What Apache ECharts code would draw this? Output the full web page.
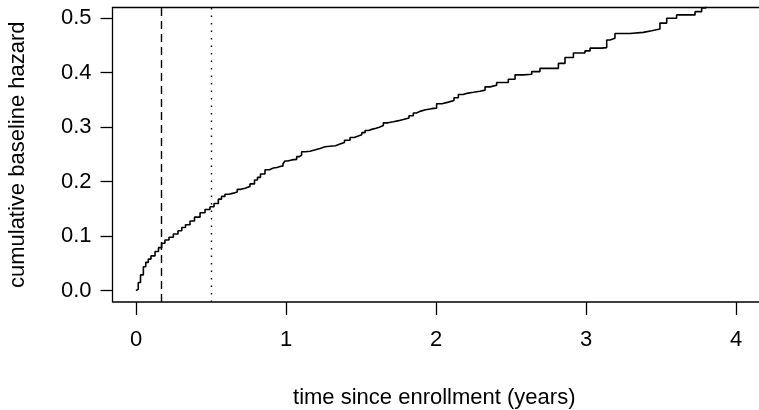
<!DOCTYPE html>
<html>
<head>
<meta charset="utf-8">
<script src="https://cdn.jsdelivr.net/npm/echarts@6/dist/echarts.min.js"></script>
<style>
  html, body { margin: 0; padding: 0; background: #fff; }
  #chart { width: 759px; height: 410px; }
</style>
</head>
<body>
<div id="chart"></div>
<script>
// Cumulative baseline hazard (step function) over follow-up time in years
const timeYears = [0, 0.004, 0.015, 0.03, 0.049, 0.065, 0.082, 0.1, 0.127, 0.15, 0.171, 0.193, 0.22, 0.249, 0.28, 0.305, 0.33, 0.36, 0.39, 0.427, 0.46, 0.493, 0.52, 0.549, 0.57, 0.593, 0.62, 0.649, 0.675, 0.7, 0.727, 0.76, 0.79, 0.81, 0.83, 0.86, 0.89, 0.916, 0.94, 0.96, 0.98, 0.993, 1.01, 1.038, 1.071, 1.09, 1.104, 1.13, 1.16, 1.19, 1.227, 1.26, 1.293, 1.33, 1.36, 1.39, 1.427, 1.455, 1.482, 1.505, 1.527, 1.55, 1.571, 1.6, 1.622, 1.649, 1.68, 1.716, 1.75, 1.782, 1.82, 1.849, 1.87, 1.893, 1.93, 1.971, 2.004, 2.04, 2.082, 2.12, 2.149, 2.18, 2.204, 2.25, 2.293, 2.327, 2.36, 2.404, 2.449, 2.482, 2.527, 2.582, 2.638, 2.693, 2.782, 2.816, 2.86, 2.916, 2.993, 3.027, 3.104, 3.138, 3.16, 3.193, 3.293, 3.382, 3.438, 3.493, 3.538, 3.604, 3.704, 3.727, 3.771, 3.8, 3.9];
const cumHazard = [0.0, 0.003, 0.015, 0.029, 0.044, 0.052, 0.058, 0.064, 0.072, 0.079, 0.087, 0.093, 0.098, 0.104, 0.110, 0.116, 0.121, 0.128, 0.135, 0.143, 0.149, 0.154, 0.160, 0.168, 0.173, 0.177, 0.179, 0.181, 0.186, 0.188, 0.191, 0.196, 0.203, 0.208, 0.214, 0.222, 0.225, 0.226, 0.228, 0.229, 0.233, 0.238, 0.240, 0.241, 0.246, 0.249, 0.255, 0.256, 0.258, 0.261, 0.264, 0.265, 0.266, 0.269, 0.272, 0.276, 0.281, 0.284, 0.286, 0.290, 0.294, 0.296, 0.298, 0.300, 0.303, 0.308, 0.310, 0.312, 0.314, 0.317, 0.321, 0.326, 0.329, 0.332, 0.334, 0.335, 0.343, 0.346, 0.349, 0.354, 0.360, 0.362, 0.364, 0.366, 0.368, 0.374, 0.377, 0.382, 0.382, 0.388, 0.396, 0.397, 0.402, 0.408, 0.408, 0.417, 0.428, 0.436, 0.440, 0.445, 0.446, 0.460, 0.463, 0.472, 0.474, 0.477, 0.480, 0.491, 0.500, 0.506, 0.506, 0.512, 0.519, 0.524, 0.528];

// Reference times: 2 months (dashed) and 6 months (dotted)
const refDashed = 1 / 6;
const refDotted = 0.5;

const xTicks = [0, 1, 2, 3, 4];
const yTicks = [0.0, 0.1, 0.2, 0.3, 0.4, 0.5];

const xTitle = 'time since enrollment (years)';
const yTitle = 'cumulative baseline hazard';

const FONT = 'Liberation Sans, Arial, Helvetica, sans-serif';
const FS = 22;

const chart = echarts.init(document.getElementById('chart'), null, { renderer: 'canvas' });

chart.setOption({
  animation: false,
  backgroundColor: '#ffffff',
  grid: {
    left: 112.5, top: 7.5, right: -7, bottom: 108,
    containLabel: false,
    outerBoundsMode: 'none',
    show: true, borderColor: '#000', borderWidth: 1.3, backgroundColor: 'transparent'
  },
  xAxis: {
    type: 'value',
    min: -0.1567, max: 4.2,
    name: xTitle,
    nameLocation: 'middle',
    nameGap: 85,
    nameTextStyle: { fontFamily: FONT, fontSize: FS, color: '#000', padding: [0, 10, 0, 0] },
    axisLine: { show: false, onZero: false },
    splitLine: { show: false },
    axisTick: { show: true, inside: false, length: 13, customValues: xTicks, lineStyle: { color: '#000', width: 1.3 } },
    axisLabel: {
      customValues: xTicks, margin: 27, fontFamily: FONT, fontSize: FS, color: '#000',
      formatter: v => String(v)
    }
  },
  yAxis: {
    type: 'value',
    min: -0.0207, max: 0.5196,
    name: yTitle,
    nameLocation: 'middle',
    nameGap: 84,
    nameRotate: 90,
    nameTextStyle: { fontFamily: FONT, fontSize: FS, color: '#000' },
    axisLine: { show: false, onZero: false },
    splitLine: { show: false },
    axisTick: { show: true, inside: false, length: 12, customValues: yTicks, lineStyle: { color: '#000', width: 1.3 } },
    axisLabel: {
      customValues: yTicks, margin: 21, fontFamily: FONT, fontSize: FS, color: '#000',
      formatter: v => v.toFixed(1)
    }
  },
  series: [{
    type: 'line',
    data: timeYears.map((t, i) => [t, cumHazard[i]]),
    step: 'end',
    showSymbol: false,
    clip: true,
    lineStyle: { color: '#000', width: 1.6 },
    markLine: {
      silent: true,
      symbol: ['none', 'none'],
      label: { show: false },
      data: [
        { xAxis: refDashed, lineStyle: { color: '#000', width: 1.4, type: [8, 5] } },
        { xAxis: refDotted, lineStyle: { color: '#000', width: 1.4, type: [1.5, 6] } }
      ]
    }
  }]
});
</script>
</body>
</html>
